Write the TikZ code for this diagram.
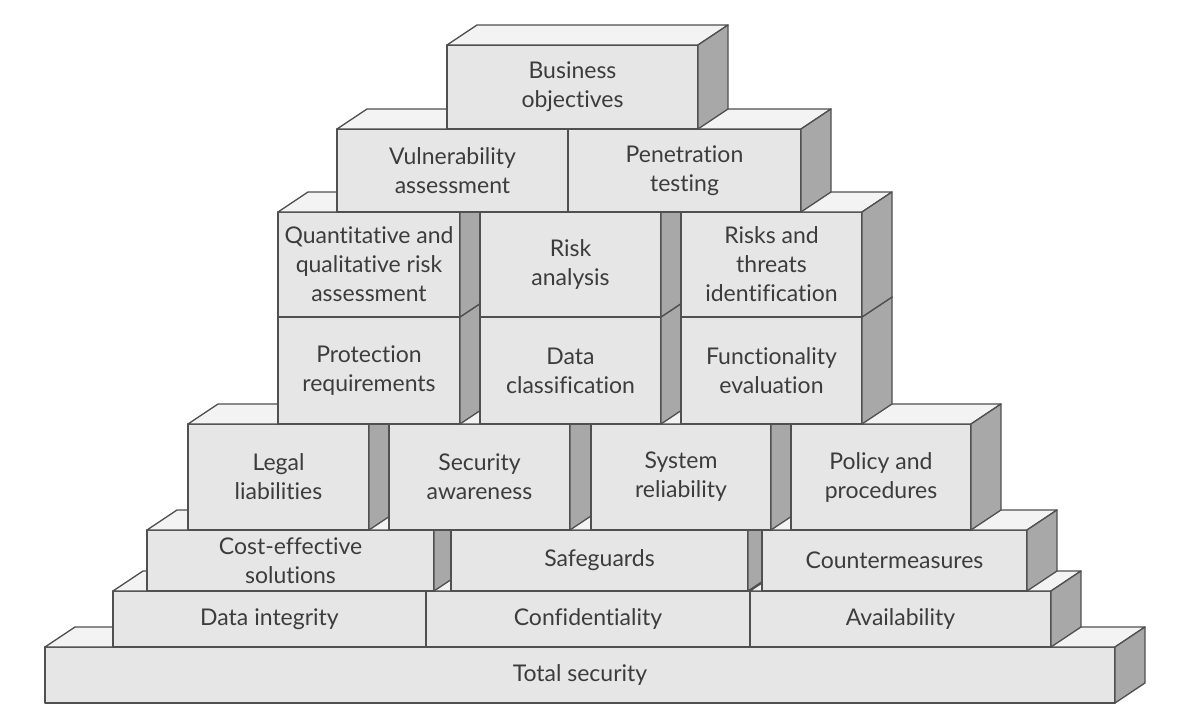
\documentclass[tikz,border=0pt]{standalone}
\usepackage{fontspec}
\setmainfont{Lato}[Ligatures=NoCommon]
\usetikzlibrary{calc}
\definecolor{frontc}{HTML}{E6E6E6}
\definecolor{topc}{HTML}{F3F3F3}
\definecolor{sidec}{HTML}{A8A8A8}
\definecolor{linec}{HTML}{505050}
\definecolor{textc}{HTML}{3C3C3C}
\newcommand\mybrick[6]{%
  \node[frontface, minimum width={(#4-#2)*1pt}, minimum height={(#5-#3)*1pt}] (#1) at (#2,#3) {#6};
  \draw[topface] (#1.north west) -- ++(30,-20) -- ($(#1.north east)+(30,-20)$) -- (#1.north east) -- cycle;
  \draw[sideface] (#1.north east) -- ++(30,-20) -- ($(#1.south east)+(30,-20)$) -- (#1.south east) -- cycle;
}
\begin{document}
\begin{tikzpicture}[x=1pt,y=-1pt,
  edge/.style={draw=linec, line width=1.3pt, line join=round},
  frontface/.style={edge, fill=frontc, anchor=north west, inner sep=0pt, outer sep=0pt,
    align=center, font=\fontsize{23}{29}\selectfont, text=textc},
  topface/.style={edge, fill=topc},
  sideface/.style={edge, fill=sidec}]
\useasboundingbox[fill=white] (0,0) rectangle (1198,722);
% row 8
\mybrick{total}{45}{647}{1115}{703}{Total security}
% row 7
\mybrick{integ}{113}{591}{426}{647}{Data integrity}
\mybrick{conf}{426}{591}{750}{647}{Confidentiality}
\mybrick{avail}{750}{591}{1051}{647}{Availability}
% row 6
\mybrick{cost}{147}{530}{434}{591}{Cost-effective\\solutions}
\mybrick{safe}{451}{530}{748}{591}{Safeguards}
\mybrick{counter}{762}{530}{1027}{591}{Countermeasures}
% row 5
\mybrick{legal}{188}{424}{369}{530}{Legal\\liabilities}
\mybrick{secaw}{389}{424}{570}{530}{Security\\awareness}
\mybrick{sysrel}{591}{424}{771}{530}{System\\reliability}
\mybrick{policy}{791}{424}{971}{530}{Policy and\\procedures}
% row 4
\mybrick{protect}{278}{317}{460}{424}{Protection\\requirements}
\mybrick{dataclass}{480}{317}{661}{424}{Data\\classification}
\mybrick{func}{681}{317}{862}{424}{Functionality\\evaluation}
% row 3
\mybrick{quant}{278}{212}{460}{317}{Quantitative and\\qualitative risk\\assessment}
\mybrick{riskan}{480}{212}{661}{317}{Risk\\analysis}
\mybrick{threats}{681}{212}{862}{317}{Risks and\\threats\\identification}
% row 2
\mybrick{vuln}{337}{129}{568}{212}{Vulnerability\\assessment}
\mybrick{pen}{568}{129}{801}{212}{Penetration\\testing}
% row 1
\mybrick{business}{447}{45}{698}{129}{Business\\objectives}
\end{tikzpicture}
\end{document}
